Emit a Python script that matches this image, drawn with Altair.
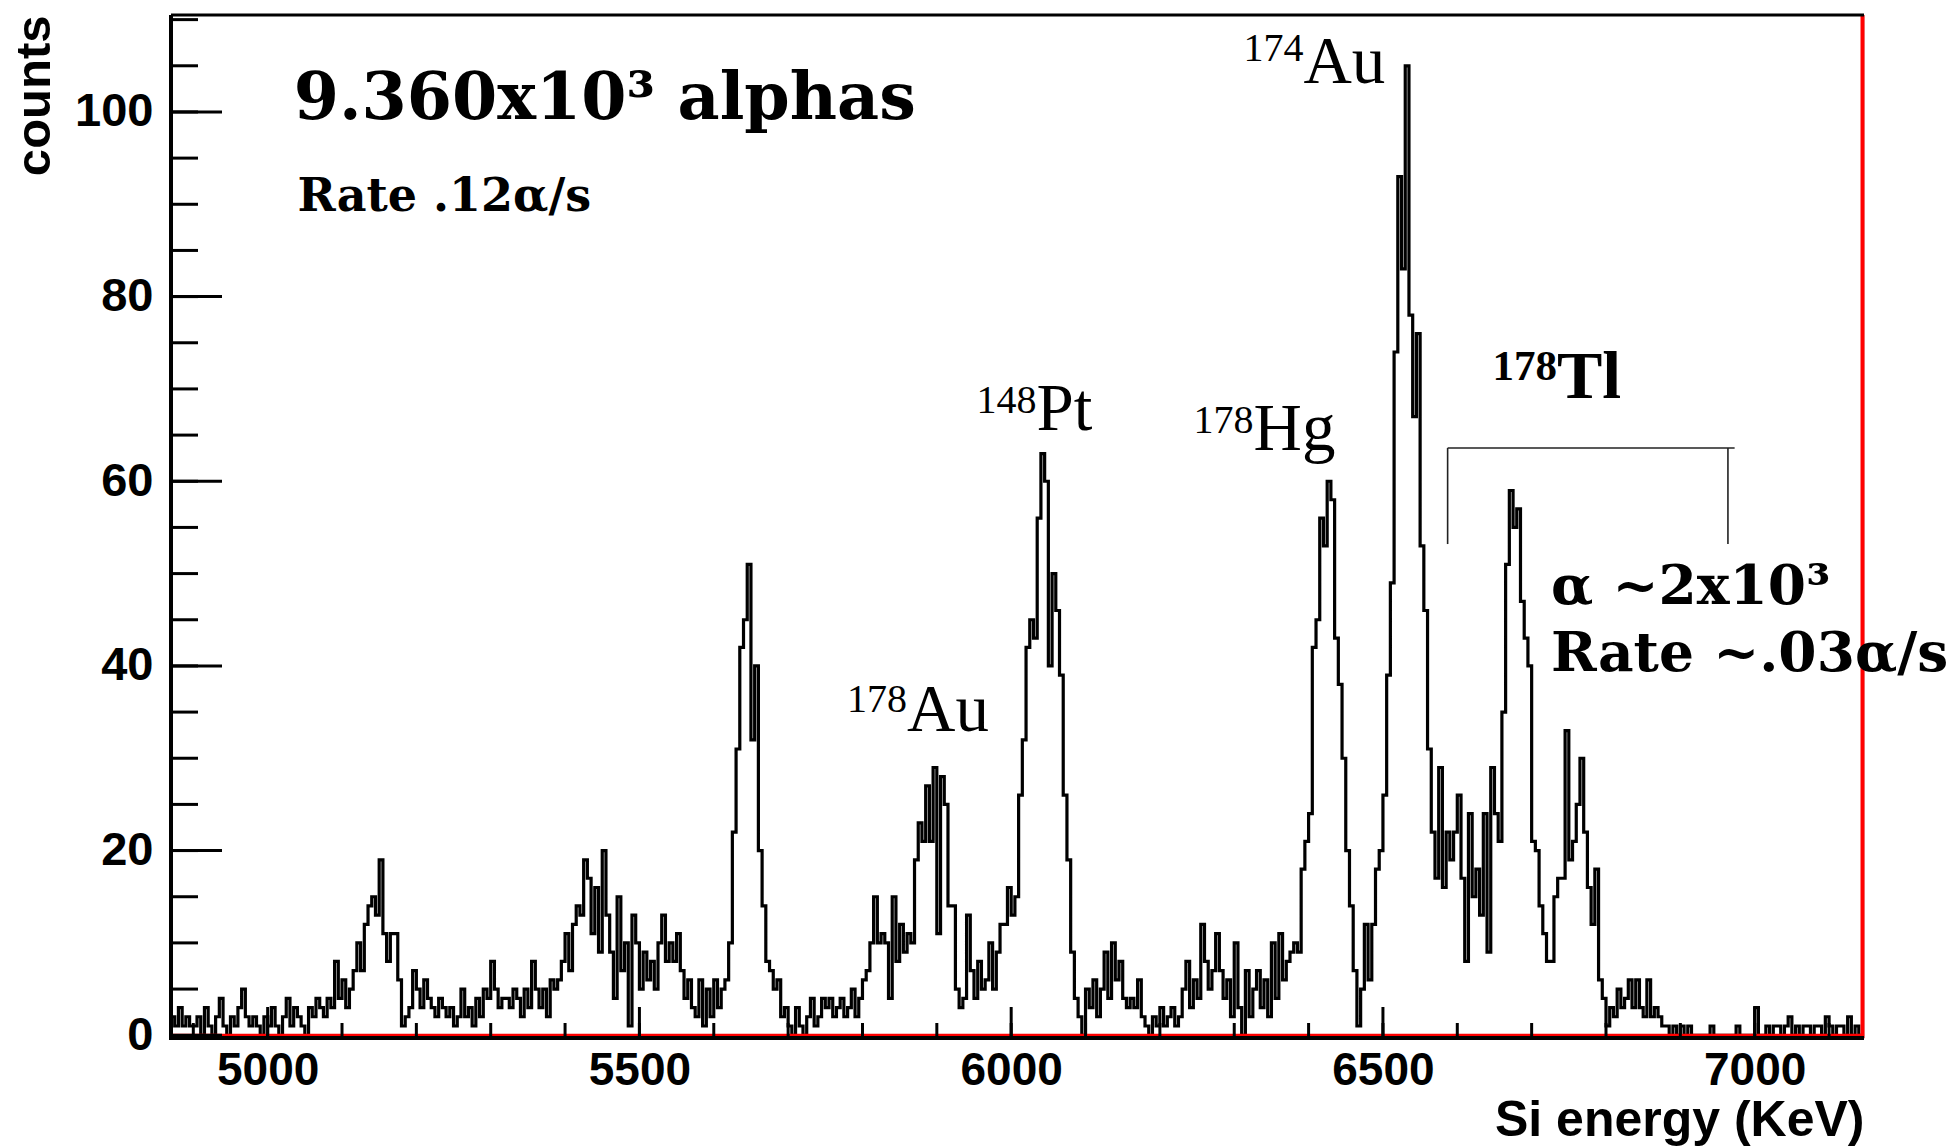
import altair as alt
import pandas as pd

# ---------------- data (5 keV bins starting at 4870 keV) ----------------
bin_start = 4870
bin_width = 5

counts_4870 = [2, 1, 3, 1, 2, 1, 1, 2, 0, 3, 1, 0, 2, 4, 1, 0, 2, 1, 3, 5]
counts_4970 = [2, 1, 2, 1, 0, 2, 1, 3, 1, 0, 2, 4, 1, 3, 2, 1, 0, 3, 2, 4]
counts_5070 = [3, 2, 4, 3, 8, 4, 6, 3, 5, 7, 10, 7, 12, 14, 15, 13, 19, 11, 8, 11]
counts_5170 = [11, 6, 1, 2, 3, 7, 5, 3, 6, 4, 3, 2, 4, 3, 2, 3, 1, 2, 5, 2]
counts_5270 = [3, 1, 4, 2, 5, 4, 8, 5, 3, 4, 4, 3, 5, 4, 2, 5, 3, 8, 5, 3]
counts_5370 = [5, 2, 6, 5, 6, 8, 11, 7, 12, 14, 13, 19, 17, 11, 16, 9, 20, 13, 9, 4]
counts_5470 = [15, 7, 10, 1, 13, 10, 5, 9, 6, 8, 5, 10, 13, 8, 10, 8, 11, 7, 4, 6]
counts_5570 = [3, 2, 6, 1, 5, 2, 6, 3, 5, 6, 10, 22, 31, 42, 45, 51, 32, 40, 20, 14]
counts_5670 = [8, 7, 5, 6, 2, 3, 1, 0, 3, 1, 0, 2, 4, 1, 2, 4, 3, 4, 2, 3]
counts_5770 = [4, 2, 3, 5, 2, 4, 6, 7, 10, 15, 10, 11, 10, 4, 15, 8, 12, 9, 11, 10]
counts_5870 = [19, 23, 21, 27, 21, 29, 11, 28, 25, 14, 14, 5, 3, 4, 13, 7, 4, 8, 5, 6]
counts_5970 = [10, 5, 9, 12, 12, 16, 13, 15, 26, 32, 42, 45, 43, 56, 63, 60, 40, 50, 46, 39]
counts_6070 = [26, 19, 9, 4, 2, 0, 5, 3, 6, 2, 5, 9, 4, 10, 6, 8, 4, 3, 4, 3]
counts_6170 = [6, 2, 1, 0, 2, 1, 3, 1, 2, 3, 1, 2, 5, 8, 3, 6, 4, 12, 8, 5]
counts_6270 = [7, 11, 7, 4, 6, 2, 10, 3, 0, 7, 2, 5, 7, 3, 6, 2, 10, 4, 11, 6]
counts_6370 = [8, 9, 10, 9, 18, 21, 24, 42, 45, 56, 53, 60, 58, 43, 38, 30, 20, 14, 7, 1]
counts_6470 = [5, 12, 6, 12, 18, 20, 26, 39, 49, 74, 93, 83, 105, 78, 67, 76, 53, 46, 31, 22]
counts_6570 = [17, 29, 16, 22, 19, 22, 26, 17, 8, 24, 15, 18, 13, 24, 9, 29, 24, 21, 35, 51]
counts_6670 = [59, 55, 57, 47, 43, 40, 21, 20, 14, 11, 8, 8, 15, 17, 17, 33, 19, 21, 25, 30]
counts_6770 = [22, 16, 12, 18, 6, 4, 1, 3, 2, 5, 3, 4, 6, 3, 6, 3, 2, 6, 2, 3]
counts_6870 = [2, 1, 1, 0, 1, 0, 1, 0, 1, 0, 0, 0, 0, 0, 1, 0, 0, 0, 0, 0]
counts_6970 = [0, 1, 0, 0, 0, 0, 3, 0, 0, 1, 0, 1, 1, 0, 1, 2, 0, 1, 0, 1]
counts_7070 = [1, 0, 1, 1, 0, 2, 1, 0, 1, 1, 0, 2, 0, 1, 0]

counts = (counts_4870 + counts_4970 + counts_5070 + counts_5170 + counts_5270 +
          counts_5370 + counts_5470 + counts_5570 + counts_5670 + counts_5770 +
          counts_5870 + counts_5970 + counts_6070 + counts_6170 + counts_6270 +
          counts_6370 + counts_6470 + counts_6570 + counts_6670 + counts_6770 +
          counts_6870 + counts_6970 + counts_7070)

x_min, x_max = 4870, 7147
y_min, y_max = -0.3, 110.5
x_label_values = [5000, 5500, 6000, 6500, 7000]
x_minor_values = list(range(4900, 7101, 100))
y_label_values = [0, 20, 40, 60, 80, 100]
y_minor_values = list(range(5, 111, 5))

# annotations (positions in data coordinates)
big_title = ["9.360x10\u00b3 alphas"]
rate_title = ["Rate .12\u03b1/s"]
peak_masses = ["174", "148", "178", "178"]
peak_elements = ["Au", "Pt", "Hg", "Au"]
peak_energy = [6393, 6034, 6326, 5860]
peak_elem_y = [103.1, 65.6, 63.4, 33.0]
peak_mass_y = [105.5, 67.4, 65.2, 35.0]
tl_mass, tl_elem = ["178"], ["Tl"]
tl_energy, tl_elem_y, tl_mass_y = [6734], [69.0], [71.0]
tl_texts = ["\u03b1 ~2x10\u00b3", "Rate ~.03\u03b1/s"]
tl_text_y = [46.7, 39.4]
tl_text_x = 6726
bracket_left, bracket_right, bracket_end = 6587, 6964, 6973
bracket_top, bracket_bottom = 63.6, 53.2

# ---------------- chart ----------------
W, H = 1693, 1023
xs = alt.Scale(domain=[x_min, x_max], nice=False, zero=False)
ys = alt.Scale(domain=[y_min, y_max], nice=False, zero=False)

edges = [bin_start + i * bin_width for i in range(len(counts) + 1)]
hist_df = pd.DataFrame({"energy": edges, "counts": counts + [counts[-1]]})

sans = "Liberation Sans"
serif = "Liberation Serif"
bold_serif = "DejaVu Serif"

hist = alt.Chart(hist_df).mark_line(
    interpolate="step-after", color="black", strokeWidth=3.2, clip=True
).encode(
    x=alt.X("energy:Q", scale=xs, axis=alt.Axis(
        values=x_label_values, format="d", ticks=False, grid=False,
        domain=False, labelFont=sans, labelFontWeight="bold", labelFontSize=46,
        labelColor="black", labelPadding=10, labelBaseline="top",
        title="Si energy (KeV)", titleFont=sans, titleFontWeight="bold",
        titleFontSize=50, titleColor="black", titleAlign="right",
        titleX=W, titleY=97, titleBaseline="alphabetic")),
    y=alt.Y("counts:Q", scale=ys, axis=alt.Axis(
        values=y_label_values, format="d", ticks=False, grid=False,
        domain=False, labelFont=sans, labelFontWeight="bold", labelFontSize=47,
        labelColor="black", labelPadding=18,
        title="counts", titleFont=sans, titleFontWeight="bold",
        titleFontSize=49, titleColor="black", titleAngle=270,
        titleAlign="right", titleX=-122, titleY=0, titleBaseline="alphabetic")),
)

# inward ticks
ymaj = pd.DataFrame({"v": y_label_values})
ymin_df = pd.DataFrame({"v": y_minor_values})
xmaj = pd.DataFrame({"v": x_label_values})
xmin_df = pd.DataFrame({"v": x_minor_values})

y_major_ticks = alt.Chart(ymaj).mark_rule(color="black", strokeWidth=3).encode(
    y=alt.Y("v:Q", scale=ys), x=alt.value(0), x2=alt.value(51))
y_minor_ticks = alt.Chart(ymin_df).mark_rule(color="black", strokeWidth=3).encode(
    y=alt.Y("v:Q", scale=ys), x=alt.value(0), x2=alt.value(27))
x_major_ticks = alt.Chart(xmaj).mark_rule(color="black", strokeWidth=3).encode(
    x=alt.X("v:Q", scale=xs), y=alt.value(H), y2=alt.value(H - 31))
x_minor_ticks = alt.Chart(xmin_df).mark_rule(color="black", strokeWidth=3).encode(
    x=alt.X("v:Q", scale=xs), y=alt.value(H), y2=alt.value(H - 15))

# red zero line and right edge line
red_h = alt.Chart(pd.DataFrame({"x": [x_min], "x2": [7145], "y": [0]})).mark_rule(
    color="#ff0000", strokeWidth=3).encode(
    x=alt.X("x:Q", scale=xs), x2="x2:Q", y=alt.Y("y:Q", scale=ys))
red_v = alt.Chart(pd.DataFrame({"x": [7145]})).mark_rule(
    color="#ff0000", strokeWidth=4).encode(
    x=alt.X("x:Q", scale=xs), y=alt.value(0), y2=alt.value(H))

# frame: left and bottom thick axes, top line
frame_df = pd.DataFrame({"x": [x_min], "x2": [x_max]})
left_line = alt.Chart(frame_df).mark_rule(color="black", strokeWidth=4).encode(
    x=alt.value(0), y=alt.value(0), y2=alt.value(H + 2))
bottom_line = alt.Chart(frame_df).mark_rule(color="black", strokeWidth=4).encode(
    x=alt.value(-2), x2=alt.value(W), y=alt.value(H))
top_line = alt.Chart(frame_df).mark_rule(color="black", strokeWidth=3).encode(
    x=alt.value(0), x2=alt.value(W), y=alt.value(0))

# text annotations
t1 = alt.Chart(pd.DataFrame({"x": [5035], "y": [99.2], "t": big_title})).mark_text(
    align="left", baseline="alphabetic", font=bold_serif, fontWeight="bold",
    fontSize=65, color="black").encode(
    x=alt.X("x:Q", scale=xs), y=alt.Y("y:Q", scale=ys), text="t:N")
t2 = alt.Chart(pd.DataFrame({"x": [5040], "y": [89.3], "t": rate_title})).mark_text(
    align="left", baseline="alphabetic", font=bold_serif, fontWeight="bold",
    fontSize=46, color="black").encode(
    x=alt.X("x:Q", scale=xs), y=alt.Y("y:Q", scale=ys), text="t:N")

peaks_df = pd.DataFrame({"x": peak_energy, "ye": peak_elem_y, "ym": peak_mass_y,
                         "el": peak_elements, "m": peak_masses})
pk_el = alt.Chart(peaks_df).mark_text(
    align="left", baseline="alphabetic", font=serif, fontSize=67,
    color="black").encode(
    x=alt.X("x:Q", scale=xs), y=alt.Y("ye:Q", scale=ys), text="el:N")
pk_m = alt.Chart(peaks_df).mark_text(
    align="right", baseline="alphabetic", font=serif, fontSize=40,
    color="black").encode(
    x=alt.X("x:Q", scale=xs), y=alt.Y("ym:Q", scale=ys), text="m:N")

tl_df = pd.DataFrame({"x": tl_energy, "ye": tl_elem_y, "ym": tl_mass_y,
                      "el": tl_elem, "m": tl_mass})
tl_el = alt.Chart(tl_df).mark_text(
    align="left", baseline="alphabetic", font=serif, fontWeight="bold",
    fontSize=68, color="black").encode(
    x=alt.X("x:Q", scale=xs), y=alt.Y("ye:Q", scale=ys), text="el:N")
tl_m = alt.Chart(tl_df).mark_text(
    align="right", baseline="alphabetic", font=serif, fontWeight="bold",
    fontSize=43, color="black").encode(
    x=alt.X("x:Q", scale=xs), y=alt.Y("ym:Q", scale=ys), text="m:N")

tl_txt = alt.Chart(pd.DataFrame({"x": [tl_text_x] * 2, "y": tl_text_y,
                                 "t": tl_texts})).mark_text(
    align="left", baseline="alphabetic", font=bold_serif, fontWeight="bold",
    fontSize=55, color="black").encode(
    x=alt.X("x:Q", scale=xs), y=alt.Y("y:Q", scale=ys), text="t:N")

# bracket over 178Tl
br_h = alt.Chart(pd.DataFrame({"x": [bracket_left], "x2": [bracket_end],
                               "y": [bracket_top]})).mark_rule(
    color="#222222", strokeWidth=1.6).encode(
    x=alt.X("x:Q", scale=xs), x2="x2:Q", y=alt.Y("y:Q", scale=ys))
br_v = alt.Chart(pd.DataFrame({"x": [bracket_left, bracket_right],
                               "y": [bracket_top] * 2,
                               "y2": [bracket_bottom] * 2})).mark_rule(
    color="#222222", strokeWidth=1.6).encode(
    x=alt.X("x:Q", scale=xs), y=alt.Y("y:Q", scale=ys), y2="y2:Q")

chart = alt.layer(
    hist, red_h, red_v, y_major_ticks, y_minor_ticks, x_major_ticks, x_minor_ticks,
    left_line, bottom_line, top_line,
    t1, t2, pk_el, pk_m, tl_el, tl_m, tl_txt, br_h, br_v,
).properties(
    width=W, height=H,
    padding={"left": 171, "top": 15, "right": 94, "bottom": 110},
    autosize=alt.AutoSizeParams(type="none"),
).configure_view(stroke=None).configure(background="white")

chart.save("out.html", embed_options={"renderer": "svg", "actions": False})
